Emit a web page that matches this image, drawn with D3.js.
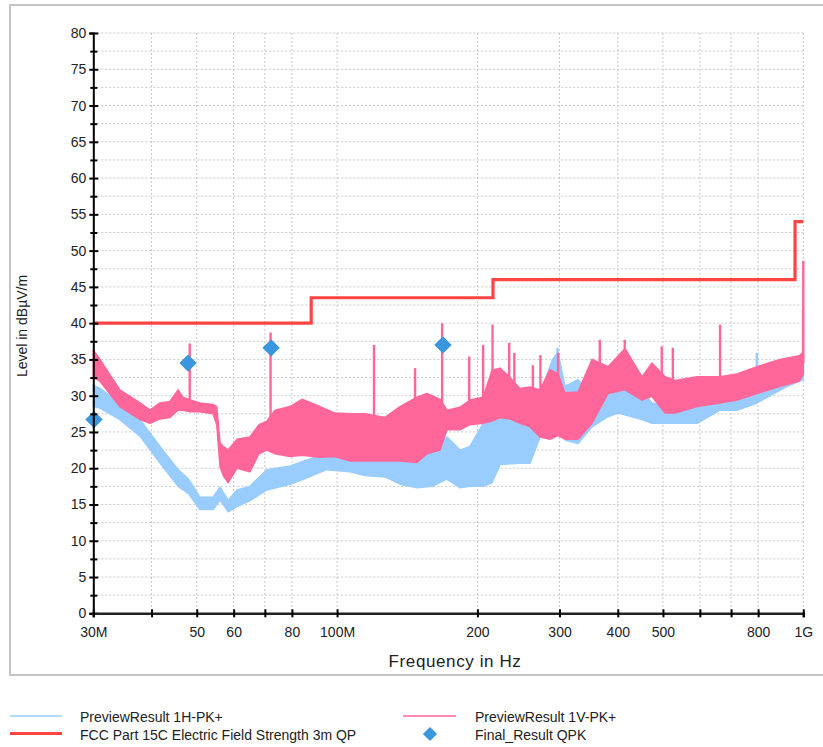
<!DOCTYPE html>
<html>
<head>
<meta charset="utf-8">
<script src="https://cdn.jsdelivr.net/npm/d3@7"></script>
<style>
  body { margin: 0; background: #fff; }
  svg text { font-family: "Liberation Sans", Arial, sans-serif; fill: #222; }
</style>
</head>
<body>
<svg id="chart" width="823" height="747"></svg>
<script>
// frequencies in MHz, levels in dBµV/m
const freqTicks = [30, 40, 50, 60, 70, 80, 100, 200, 300, 400, 500, 600, 700, 800, 1000];
const freqLabels = {30: "30M", 50: "50", 60: "60", 80: "80", 100: "100M", 200: "200",
                    300: "300", 400: "400", 500: "500", 800: "800", 1000: "1G"};
const levelTicks = d3.range(0, 80.1, 2.5);

// FCC Part 15C limit (step line)
const limitFreq  = [30, 88, 88, 216, 216, 960, 960, 1000];
const limitLevel = [40, 40, 43.5, 43.5, 46, 46, 54, 54];

// Preview 1H-PK+ : envelope of the trace (low / high)
const hFreq = [30, 31, 34.2, 37.8, 41.7, 45.6, 48, 50.8, 54.2, 56.1, 58.4, 61, 65, 70.7, 79.3,
               84.1, 95, 106.6, 114.8, 126.7, 136.5, 148.4, 160, 172.1, 183.5, 192.8, 205.7,
               215, 223.6, 246.8, 259.4, 272.5, 290, 297.8, 308, 328.7, 352.3, 381.3, 400.5,
               450.9, 473.6, 530.8, 591.6, 663, 721, 795.6, 923, 1000];
const hLow  = [28.5, 28.3, 26.7, 24.4, 20.7, 17.5, 16.5, 14.3, 14.3, 15.6, 14, 14.7, 15.5, 17, 17.8,
               18.4, 19.8, 19.5, 19, 18.8, 17.8, 17.3, 17.5, 18.5, 17.3, 17.5, 17.5,
               18, 20.5, 20.7, 20.7, 24.3, 28, 28, 23.9, 23.4, 25.7, 27.1, 27.6,
               26.7, 26.2, 26.2, 26.2, 28, 28, 29, 31.3, 32.2];
const hHigh = [31.5, 31, 29, 26.7, 23, 19.8, 18.5, 16, 16, 17.4, 15.6, 17, 17.5, 19.8, 20.3,
               20.9, 22.1, 22.5, 22.5, 22, 22.6, 23.5, 22.8, 24.3, 22.5, 23, 26.2,
               27, 29.4, 29.4, 29, 30.4, 35, 36, 31.3, 32.2, 30.4, 30.8, 31.2,
               30.8, 29, 28.5, 29.9, 30.8, 30.8, 32.2, 34, 35];
const hSpikeFreq  = [297, 795, 998];
const hSpikeLevel = [36.6, 35.9, 42];

// Preview 1V-PK+ : envelope of the trace (low / high)
const vFreq = [30, 31, 34.2, 37.8, 39.7, 41.7, 43.8, 45.6, 46.7, 48.4, 50.8, 54.2, 55.2, 56.1, 57,
               58.4, 61, 65, 68, 70.7, 73.6, 79.3, 84.1, 91.9, 99, 106.6, 114.8, 126.7, 136.5,
               148.4, 155.9, 166.3, 172.1, 183.5, 192.8, 205.7, 215, 223.6, 234.9, 246.8, 259.4,
               272.5, 286.3, 297.8, 308, 328.7, 352.3, 381.3, 414.6, 450.9, 473.6, 505.3, 530.8,
               591.6, 663, 721, 795.6, 891.7, 980, 1000];
const vLow  = [32.5, 32, 28.5, 26.7, 26.2, 26.8, 27, 28, 28, 27.8, 27.8, 27.5, 26, 20.2, 19,
               18, 20, 19.5, 22, 22.5, 22, 21.6, 21.8, 21.5, 21.6, 21, 21, 21, 21,
               20.8, 22, 22.5, 25.3, 25.3, 26, 26.2, 26.5, 27, 26.8, 26.2, 25.7,
               24.3, 24, 24.5, 24, 24, 26.2, 30.3, 30.8, 29.4, 29.9, 27.6, 27.6,
               28.5, 29, 29.4, 30.3, 31.3, 32, 33];
const vHigh = [36.3, 35, 30.8, 29, 28, 29, 29.2, 30.8, 29.8, 29.4, 29, 28.8, 28.5, 23.5, 23,
               22.5, 24, 24.3, 26, 26.5, 28, 28.5, 29.5, 28.5, 27.6, 27.5, 27.5, 27, 28.5,
               29.8, 30.3, 29.5, 28, 28.4, 29.4, 29.8, 33.5, 33.8, 32.5, 31, 31.2,
               30.8, 33.6, 33, 30.4, 30.5, 35, 34, 36.5, 32.6, 34.5, 32.6, 32.1,
               32.6, 32.6, 33, 34, 35, 35.5, 36];
const vSpikeFreq  = [48.3, 72, 120, 147, 168, 192, 205.7, 215.5, 234, 240, 263, 273, 298,
                     366, 414, 497, 525, 663, 1000];
const vSpikeLevel = [37.2, 38.7, 37, 33.8, 40, 35.4, 37, 39.8, 37.3, 35.9, 34.2, 35.6, 35.9,
                     37.7, 37.7, 36.8, 36.6, 39.8, 48.6];

// Final_Result QPK
const qpkFreq  = [30.1, 47.9, 72.2, 168.7];
const qpkLevel = [26.7, 34.5, 36.6, 37.0];

const svg = d3.select("#chart");
const plotLeft = 93.3, plotRight = 803.3, plotTop = 33, plotBottom = 613.3;

const x = d3.scaleLog().domain([30, 1000]).range([plotLeft, plotRight]);
const y = d3.scaleLinear().domain([0, 80]).range([plotBottom, plotTop]);

// outer frame
svg.append("rect")
  .attr("x", 10).attr("y", 5).attr("width", 830).attr("height", 670)
  .attr("fill", "none").attr("stroke", "#c4c4c4").attr("stroke-width", 2);

// grid
const grid = svg.append("g").attr("stroke", "#c8c8c8").attr("stroke-dasharray", "2,2");
grid.selectAll("line.h").data(levelTicks.filter(d => d > 0)).join("line")
  .attr("class", "h")
  .attr("x1", plotLeft).attr("x2", plotRight)
  .attr("y1", d => y(d)).attr("y2", d => y(d));
grid.selectAll("line.v").data(freqTicks.filter(d => d > 30)).join("line")
  .attr("class", "v")
  .attr("x1", d => x(d)).attr("x2", d => x(d))
  .attr("y1", plotTop).attr("y2", plotBottom);

// traces
const plot = svg.append("g");

function drawTrace(freq, low, high, spikeFreq, spikeLevel, color)
{
  const pts = freq.map((f, i) => ({ f: f, lo: low[i], hi: high[i] }));
  const band = d3.area()
                 .x(d => x(d.f))
                 .y0(d => y(d.lo))
                 .y1(d => y(d.hi));
  plot.append("path")
    .attr("d", band(pts))
    .attr("fill", color)
    .attr("stroke", color)
    .attr("stroke-width", 1.5)
    .attr("stroke-linejoin", "round");

  // narrow peaks sticking out of the band
  const bis = d3.bisector(d => d.f).left;
  spikeFreq.forEach((f, i) => {
    let k = Math.min(Math.max(bis(pts, f), 1), pts.length - 1);
    let base = Math.min(pts[k - 1].hi, pts[k].hi) - 1;
    plot.append("line")
      .attr("x1", x(f)).attr("x2", x(f))
      .attr("y1", y(base)).attr("y2", y(spikeLevel[i]))
      .attr("stroke", color).attr("stroke-width", 2.4);
  });
}

drawTrace(hFreq, hLow, hHigh, hSpikeFreq, hSpikeLevel, "#99ccff");
drawTrace(vFreq, vLow, vHigh, vSpikeFreq, vSpikeLevel, "#ff6699");

// limit line
const limitLine = d3.line()
                    .x(d => x(d[0]))
                    .y(d => y(d[1]));
plot.append("path")
  .attr("d", limitLine(limitFreq.map((f, i) => [f, limitLevel[i]])))
  .attr("fill", "none")
  .attr("stroke", "#ff4444")
  .attr("stroke-width", 3.2);

// final results
const diamond = d3.symbol().type(d3.symbolSquare).size(150);
plot.selectAll("path.qpk").data(qpkFreq).join("path")
  .attr("class", "qpk")
  .attr("d", diamond)
  .attr("transform", (d, i) => "translate(" + x(d) + "," + y(qpkLevel[i]) + ") rotate(45)")
  .attr("fill", "#3a96dd");

// y axis
const yAxis = svg.append("g")
  .attr("transform", "translate(" + plotLeft + ",0)")
  .call(d3.axisLeft(y).tickValues(levelTicks)
          .tickFormat(d => d % 5 === 0 ? d : "").tickSize(4).tickPadding(3));
yAxis.select(".domain").attr("stroke", "#000").attr("stroke-width", 2);
yAxis.selectAll(".tick line")
  .attr("x1", d => d % 5 === 0 ? -4 : -3)
  .attr("x2", d => d % 5 === 0 ? 5 : 4)
  .attr("stroke", "#000").attr("stroke-width", 2);
yAxis.selectAll(".tick text").attr("font-size", 14).style("fill", "#222");

// x axis
const xAxis = svg.append("g")
  .attr("transform", "translate(0," + plotBottom + ")")
  .call(d3.axisBottom(x).tickValues(freqTicks)
          .tickFormat(d => freqLabels[d] || "").tickSize(4).tickPadding(10));
xAxis.select(".domain").attr("stroke", "#222").attr("stroke-width", 2.5);
xAxis.selectAll(".tick line")
  .attr("y1", -4).attr("y2", 4)
  .attr("stroke", "#000").attr("stroke-width", 2);
xAxis.selectAll(".tick text").attr("font-size", 14).style("fill", "#222");

// axis titles
svg.append("text")
  .attr("x", 455).attr("y", 667)
  .attr("text-anchor", "middle")
  .attr("font-size", 17)
  .attr("letter-spacing", 0.6)
  .text("Frequency in Hz");

svg.append("text")
  .attr("transform", "translate(27,326) rotate(-90)")
  .attr("text-anchor", "middle")
  .attr("font-size", 14)
  .text("Level in dBµV/m");

// legend
const legend = svg.append("g").attr("font-size", 14);
legend.append("line").attr("x1", 10).attr("x2", 62).attr("y1", 716).attr("y2", 716)
  .attr("stroke", "#99ccff").attr("stroke-width", 1.5);
legend.append("text").attr("x", 80).attr("y", 722).text("PreviewResult 1H-PK+");
legend.append("line").attr("x1", 10).attr("x2", 62).attr("y1", 733.5).attr("y2", 733.5)
  .attr("stroke", "#ff4444").attr("stroke-width", 3.2);
legend.append("text").attr("x", 80).attr("y", 740).text("FCC Part 15C Electric Field Strength 3m QP");
legend.append("line").attr("x1", 403).attr("x2", 456).attr("y1", 716).attr("y2", 716)
  .attr("stroke", "#ff6699").attr("stroke-width", 1.5);
legend.append("text").attr("x", 475).attr("y", 722).text("PreviewResult 1V-PK+");
legend.append("path")
  .attr("d", d3.symbol().type(d3.symbolSquare).size(100))
  .attr("transform", "translate(430,734) rotate(45)")
  .attr("fill", "#3a96dd");
legend.append("text").attr("x", 475).attr("y", 740).text("Final_Result QPK");
</script>
</body>
</html>
